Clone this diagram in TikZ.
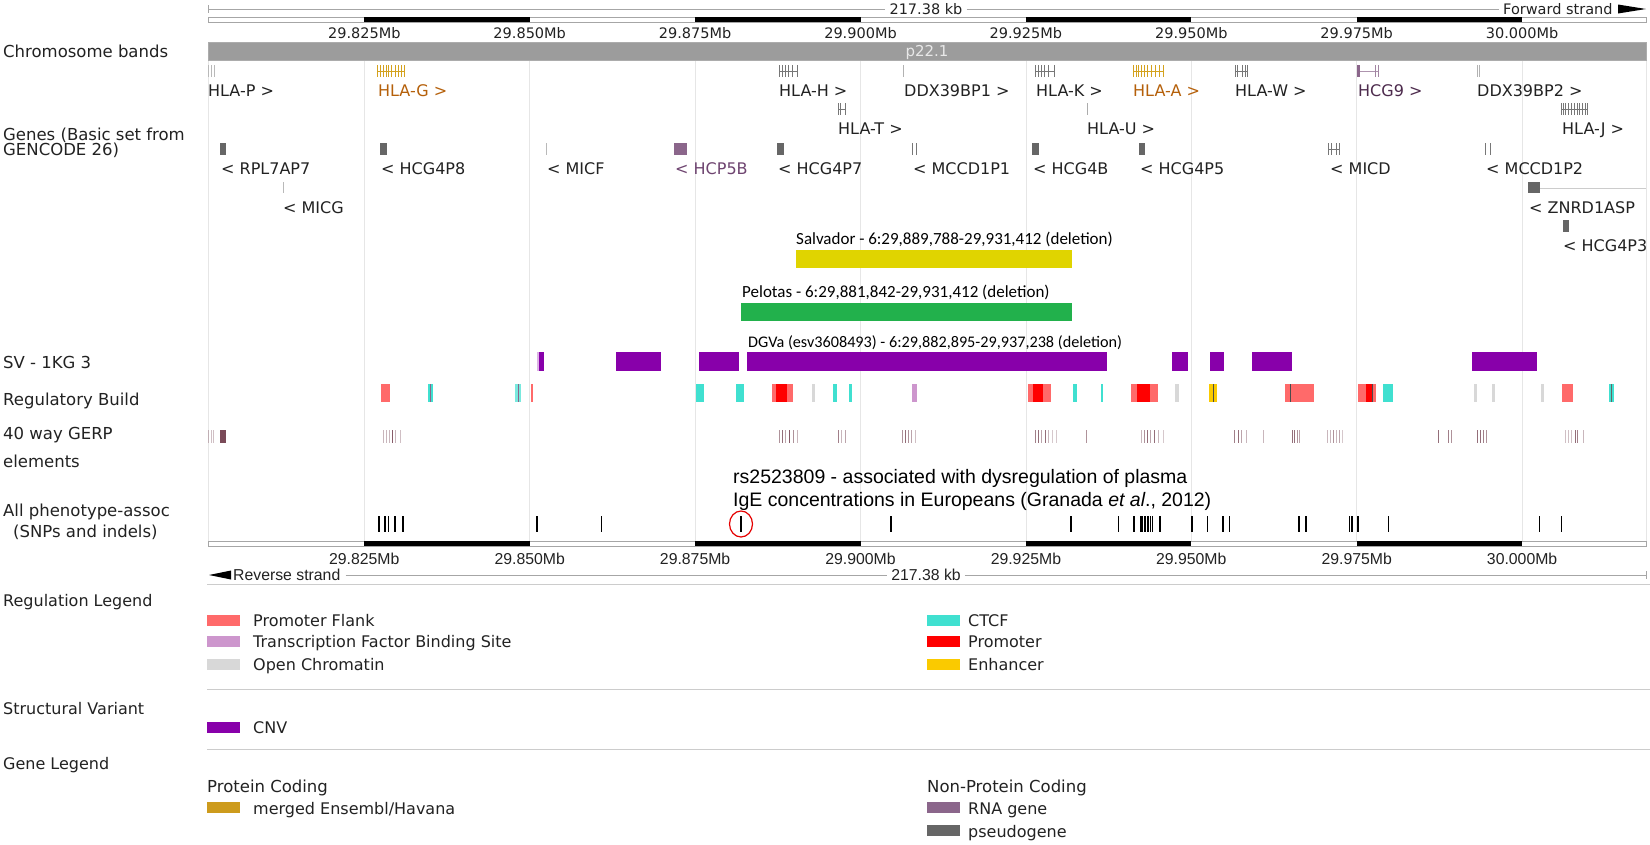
\documentclass[tikz,border=0pt]{standalone}
\usepackage{fontspec}
\setmainfont{DejaVu Sans}
\newfontfamily\libsans{Liberation Sans}
\newfontfamily\carl{Carlito}
\newcommand\fsz[1]{\fontsize{#1}{#1}\selectfont}
\definecolor{txt}{HTML}{222222}
\definecolor{gridc}{HTML}{E6E6E6}
\definecolor{pseudo}{HTML}{666666}
\definecolor{pseudol}{HTML}{777777}
\definecolor{gold}{HTML}{D4A21E}
\definecolor{goldtxt}{HTML}{B5600A}
\definecolor{rnag}{HTML}{8B668B}
\definecolor{rnatxt}{HTML}{4D2B4D}
\definecolor{rnatxtb}{HTML}{6E4470}
\definecolor{cnv}{HTML}{8800AA}
\definecolor{pflank}{HTML}{FF6A6A}
\definecolor{tfbs}{HTML}{CD96CD}
\definecolor{openc}{HTML}{D8D8D8}
\definecolor{ctcf}{HTML}{40E0D0}
\definecolor{prom}{HTML}{FF0000}
\definecolor{enh}{HTML}{FACA00}
\definecolor{gerpc}{HTML}{7A4A58}
\definecolor{merged}{HTML}{CD9B1D}
\definecolor{salv}{HTML}{E0D400}
\definecolor{pelo}{HTML}{22B14C}
\definecolor{sepc}{HTML}{CCCCCC}
\newcommand\exons[4]{\foreach \xx in {#4} {\fill[#1] (\xx,#2) rectangle ++(1.3,#3-#2);}}
\newcommand\gerps[1]{\foreach \xx/\oo in {#1} {\fill[gerpc,opacity=\oo] (\xx,430) rectangle ++(1.4,13);}}
\newcommand\pheno[1]{\foreach \xx in {#1} {\draw[black,line width=1.2pt] (\xx,516) -- (\xx,532);}}
\begin{document}
\begin{tikzpicture}[x=1pt,y=-1pt,
  lbl/.style={anchor=base west,inner sep=0,font=\fsz{16.5},text=txt},
  glbl/.style={anchor=base west,inner sep=0,font=\fsz{16},text=txt},
  tick/.style={anchor=base,inner sep=0,font=\fsz{14.5},text=txt},
  btick/.style={anchor=base,inner sep=0,font=\libsans\fsz{15.8},text=txt},
  grid/.style={draw=gridc,line width=0.8pt},
  sep/.style={draw=sepc,line width=0.8pt},
  scal/.style={draw=gray!70,line width=0.6pt},
  leg/.style={anchor=base west,inner sep=0,font=\fsz{16},text=txt}]
\useasboundingbox (0,0) rectangle (1650,844);
\fill[white] (0,0) rectangle (1650,844);
% grid lines
\foreach \x in {208,364.3,529.7,695.1,860.5,1025.9,1191.3,1356.7,1522.1,1646} \draw[grid] (\x,61) -- (\x,541);
% ---------- top scale ----------
\draw[scal] (208,5) -- (208,13);
\node[tick] (topkb) at (926,14.3) {217.38 kb};
\node[tick,anchor=base west] (fwd) at (1503,14.3) {Forward strand};
\coordinate (tl) at (208,9);
\draw[scal] (tl) -- ([xshift=-4pt]topkb.west |- tl);
\draw[scal] ([xshift=4pt]topkb.east |- tl) -- ([xshift=-4pt]fwd.west |- tl);
\fill[black] (1618,4.5) -- (1646,9) -- (1618,13.5) -- cycle;
\draw[scal,fill=white] (208,17) rectangle (1646,22);
\foreach \a/\b in {364.3/529.7,695.1/860.5,1025.9/1191.3,1356.7/1522.1} \fill[black] (\a,17) rectangle (\b,22.3);
\foreach \x/\t in {364.3/29.825Mb,529.7/29.850Mb,695.1/29.875Mb,860.5/29.900Mb,1025.9/29.925Mb,1191.3/29.950Mb,1356.7/29.975Mb,1522.1/30.000Mb}
  \node[tick] at (\x,38) {\t};
% ---------- chromosome band ----------
\fill[gray!78] (208,42) rectangle (1646,60.5);
\draw[gray!65,line width=0.6pt] (208,42) rectangle (1646,60.5);
\node[anchor=base,inner sep=0,font=\fsz{15},text=gray!18] (band) at (927,56.5) {p22.1};
% ---------- left labels ----------
\node[lbl] (lcb) at (3,57.5) {Chromosome bands};
\node[lbl] (lg1) at (3,140.5) {Genes (Basic set from};
\node[lbl] (lg2) at (3,155.5) {GENCODE 26)};
\node[lbl] (lsv) at (3,368) {SV - 1KG 3};
\node[lbl] (lrb) at (3,405) {Regulatory Build};
\node[lbl] (lge1) at (3,439.5) {40 way GERP};
\node[lbl] (lge2) at (3,467) {elements};
\node[lbl] (lph1) at (3,516) {All phenotype-assoc};
\node[lbl] (lph2) at (13,537) {(SNPs and indels)};
% ---------- genes row 1 (65-77) ----------
\exons{gray!55}{65}{77}{208,210.5,213.5}
\draw[gold,line width=0.6pt] (377,71) -- (405,71);
\exons{gold}{65}{77}{377,380,382.5,385.5,388,391,394.5,397.5,400.5,403.5}
\draw[pseudol,line width=0.6pt] (779,71) -- (798,71);
\exons{pseudol}{65}{77}{779,782,784.5,788,791.5,796.5}
\exons{gray!60}{65}{77}{903}
\draw[pseudol,line width=0.6pt] (1035,71) -- (1055,71);
\exons{pseudol}{65}{77}{1035,1038,1041,1044,1047.5,1053.5}
\draw[gold,line width=0.6pt] (1133,71) -- (1164,71);
\exons{gold}{65}{77}{1133,1135.5,1138,1141,1144,1147,1151,1155,1159,1162.5}
\draw[pseudol,line width=0.6pt] (1235,71) -- (1248,71);
\exons{pseudol}{65}{77}{1235,1237,1241.5,1244.5,1247}
\draw[rnag!70,line width=0.7pt] (1358,71) -- (1378,71);
\fill[rnag] (1357,65) rectangle (1359.5,77);
\exons{rnag!80}{65}{77}{1374.5,1378}
\exons{gray!60}{65}{77}{1476.5,1478.5}
\node[glbl] (hlap) at (208,96) {HLA-P >};
\node[glbl,text=goldtxt] (hlag) at (378,96) {HLA-G >};
\node[glbl] (hlah) at (779,96) {HLA-H >};
\node[glbl] (ddx1) at (904,96) {DDX39BP1 >};
\node[glbl] (hlak) at (1036,96) {HLA-K >};
\node[glbl,text=goldtxt] (hlaa) at (1133,96) {HLA-A >};
\node[glbl] (hlaw) at (1235,96) {HLA-W >};
\node[glbl,text=rnatxt] (hcg9) at (1358,96) {HCG9 >};
\node[glbl] (ddx2) at (1477,96) {DDX39BP2 >};
% ---------- genes row 2 (103-115) ----------
\exons{pseudol}{103}{115}{838,840,844.5}
\draw[pseudol,line width=0.6pt] (838,109) -- (846,109);
\exons{gray!65}{103}{115}{1087}
\draw[pseudol,line width=0.6pt] (1561,109) -- (1587,109);
\exons{pseudol}{103}{115}{1561,1563,1565,1567.5,1570.5,1573.5,1576.5,1579,1582,1585,1587}
\node[glbl] (hlat) at (838,134) {HLA-T >};
\node[glbl] (hlau) at (1087,134) {HLA-U >};
\node[glbl] (hlaj) at (1562,134) {HLA-J >};
% ---------- genes row 3 (143-155) ----------
\fill[pseudo] (220,143) rectangle (225.5,155);
\fill[pseudo] (380,143) rectangle (387,155);
\exons{gray!55}{143}{155}{546}
\fill[rnag] (674,143) rectangle (687,155);
\fill[pseudo] (777,143) rectangle (783.5,155);
\exons{pseudol}{143}{155}{912,916}
\fill[pseudo] (1032,143) rectangle (1039,155);
\fill[pseudo] (1139,143) rectangle (1145,155);
\draw[pseudol,line width=0.6pt] (1328,149) -- (1340,149);
\exons{pseudol}{143}{155}{1328,1330.5,1335.5,1338.5}
\exons{pseudol}{143}{155}{1485,1489.5}
\node[glbl] (rpl) at (221,174) {< RPL7AP7};
\node[glbl] (hcg4p8) at (381,174) {< HCG4P8};
\node[glbl] (micf) at (547,174) {< MICF};
\node[glbl,text=rnatxtb] (hcp5b) at (675,174) {< HCP5B};
\node[glbl] (hcg4p7) at (778,174) {< HCG4P7};
\node[glbl] (mccd1) at (913,174) {< MCCD1P1};
\node[glbl] (hcg4b) at (1033,174) {< HCG4B};
\node[glbl] (hcg4p5) at (1140,174) {< HCG4P5};
\node[glbl] (micd) at (1330,174) {< MICD};
\node[glbl] (mccd2) at (1486,174) {< MCCD1P2};
% ---------- genes row 4 (182-193) ----------
\exons{gray!55}{182}{193}{283}
\draw[gray!40,line width=0.8pt] (1540,188) -- (1646,188);
\fill[pseudo] (1528,182) rectangle (1540,193);
\node[glbl] (micg) at (283,213) {< MICG};
\node[glbl] (znrd) at (1529,213) {< ZNRD1ASP};
% ---------- genes row 5 (220-232) ----------
\fill[pseudo] (1563,220) rectangle (1569,232);
\node[glbl] (hcg4p3) at (1563,251) {< HCG4P3};
% ---------- deletions ----------
\node[anchor=base west,inner sep=0,font=\carl\fsz{17},text=black] (salvl) at (796,244.5) {Salvador - 6:29,889,788-29,931,412 (deletion)};
\fill[salv] (796,250) rectangle (1072,268);
\node[anchor=base west,inner sep=0,font=\carl\fsz{17},text=black] (pelol) at (742,297.5) {Pelotas - 6:29,881,842-29,931,412 (deletion)};
\fill[pelo] (741,303) rectangle (1072,321);
\node[anchor=base west,inner sep=0,font=\carl\fsz{16.2},text=black] (dgval) at (748,347) {DGVa (esv3608493) - 6:29,882,895-29,937,238 (deletion)};
% ---------- SV bars ----------
\fill[cnv!30] (537,352) rectangle (539,371);
\foreach \a/\b in {539/543.5,616/661,699/738.5,747/1107,1172/1187.5,1210/1223.5,1252/1292,1472/1537}
  \fill[cnv] (\a,352) rectangle (\b,371);
% ---------- regulatory build (384-402) ----------
\foreach \a/\b/\c in {381/390/pflank,428/433/ctcf,515/521/ctcf!70,531/533/pflank,
  696/704/ctcf,736/744/ctcf,772/793/pflank,776/787/prom,812/815/openc,833/837/ctcf,849/852/ctcf,
  912/917/tfbs,1028/1051/pflank,1033/1043/prom,1073/1077/ctcf,1101/1103/ctcf,
  1131/1158/pflank,1137/1150/prom,1175/1178.5/openc,1209/1217/enh,1285/1314/pflank,
  1358/1376/pflank,1366/1373/prom,1383/1393/ctcf,1474/1477/openc,1491.5/1494.5/openc,
  1541/1543.5/openc,1562/1573/pflank,1609/1614/ctcf}
  \fill[\c] (\a,384) rectangle (\b,402);
\foreach \x/\c in {430/rnag,517.5/rnag,1213/black!70,1290/black!70,1372/black!70,1611/black!60}
  \fill[\c] (\x,384) rectangle ++(1.2,18);
% ---------- GERP (430-443) ----------
\gerps{208/0.35,210.5/0.35,213/0.35,383/0.4,386/0.4,389/0.4,392/0.9,395/0.4,399.5/0.35,
  779/0.6,782/0.8,785/0.5,789/0.9,793/0.6,797/0.4,838/0.7,840.5/0.4,845/0.5,
  902/0.6,905/0.8,908/0.6,911/0.5,915/0.35,1035/0.7,1038/0.8,1041/0.5,1045/0.8,1048/0.4,1052/0.3,1056/0.3,
  1086/0.6,1141/0.4,1144/0.6,1147/0.8,1150/0.5,1154/0.8,1158/0.4,1162.5/0.3,
  1234/0.7,1238/0.8,1240.5/0.5,1246/0.4,1263/0.4,1292/0.8,1294/0.8,1296.5/0.6,1299/0.5,
  1327/0.4,1330/0.4,1333/0.6,1336/0.4,1339/0.5,1342/0.3,1438/0.8,1448/0.7,1451/0.6,
  1477/0.8,1480/0.8,1483/0.7,1486/0.6,1565/0.35,1568/0.35,1571/0.35,1575/0.8,1577/0.7,1583/0.4}
\fill[gerpc] (220,430) rectangle (226,443);
% ---------- phenotype ----------
\node[anchor=base west,inner sep=0,font=\libsans\fsz{19.5},text=black] (rs1) at (733,483) {rs2523809 - associated with dysregulation of plasma};
\node[anchor=base west,inner sep=0,font=\libsans\fsz{19.5},text=black] (rs2) at (733,506) {IgE concentrations in Europeans (Granada \textit{et al}., 2012)};
\pheno{379,385,388.5,395,403,537,601.5,741,891,1071,1118.5,1134,1141,1142.8,1144.3,1145.8,1147.2,1148.6,1150.5,1152.5,1160,1192,1207.5,1223,1229.5,1299,1306,1349.5,1352,1358,1388.5,1539.5,1561.5}
\draw[red!90!black,line width=1.2pt] (741,524) ellipse [x radius=11.5,y radius=13];
% ---------- bottom scale ----------
\draw[scal,fill=white] (208,541) rectangle (1646,546);
\foreach \a/\b in {364.3/529.7,695.1/860.5,1025.9/1191.3,1356.7/1522.1} \fill[black] (\a,541) rectangle (\b,546.3);
\foreach \x/\t in {364.3/29.825Mb,529.7/29.850Mb,695.1/29.875Mb,860.5/29.900Mb,1025.9/29.925Mb,1191.3/29.950Mb,1356.7/29.975Mb,1522.1/30.000Mb}
  \node[btick] at (\x,564) {\t};
\fill[black] (209,575) -- (231,570.5) -- (231,579.5) -- cycle;
\node[btick,anchor=base west] (rev) at (233,580.5) {Reverse strand};
\node[btick] (botkb) at (926,580.5) {217.38 kb};
\coordinate (bl) at (1646,575);
\draw[scal] ([xshift=5pt]rev.east |- bl) -- ([xshift=-4pt]botkb.west |- bl);
\draw[scal] ([xshift=4pt]botkb.east |- bl) -- (bl);
\draw[scal] (1646,571) -- (1646,579);
\draw[sep] (207,584) -- (1650,584);
% ---------- legends ----------
\node[lbl,font=\fsz{16}] (lrl) at (3,606) {Regulation Legend};
\foreach \y/\c/\t/\n in {615/pflank/Promoter Flank/a,636/tfbs/Transcription Factor Binding Site/b,659/openc/Open Chromatin/c}
  {\fill[\c] (207,\y) rectangle (240,\y+11); \node[leg] (lega\n) at (253,\y+11) {\t};}
\foreach \y/\c/\t/\n in {615/ctcf/CTCF/a,636/prom/Promoter/b,659/enh/Enhancer/c}
  {\fill[\c] (927,\y) rectangle (960,\y+11); \node[leg] (legb\n) at (968,\y+11) {\t};}
\draw[sep] (207,689) -- (1650,689);
\node[lbl,font=\fsz{16}] (lsvl) at (3,714) {Structural Variant};
\fill[cnv] (207,722) rectangle (240,733);
\node[leg] (legcnv) at (253,733) {CNV};
\draw[sep] (207,749) -- (1650,749);
\node[lbl,font=\fsz{16}] (lgl) at (3,769) {Gene Legend};
\node[leg,font=\fsz{16.5}] (lpc) at (207,792) {Protein Coding};
\node[leg,font=\fsz{16.5}] (lnpc) at (927,792) {Non-Protein Coding};
\fill[merged] (207,802) rectangle (240,813);
\node[leg] (lmerged) at (253,814) {merged Ensembl/Havana};
\fill[rnag] (927,802) rectangle (960,813);
\node[leg] (lrna) at (968,814) {RNA gene};
\fill[pseudo] (927,825) rectangle (960,836);
\node[leg] (lpseudo) at (968,837) {pseudogene};
\end{tikzpicture}
\end{document}
